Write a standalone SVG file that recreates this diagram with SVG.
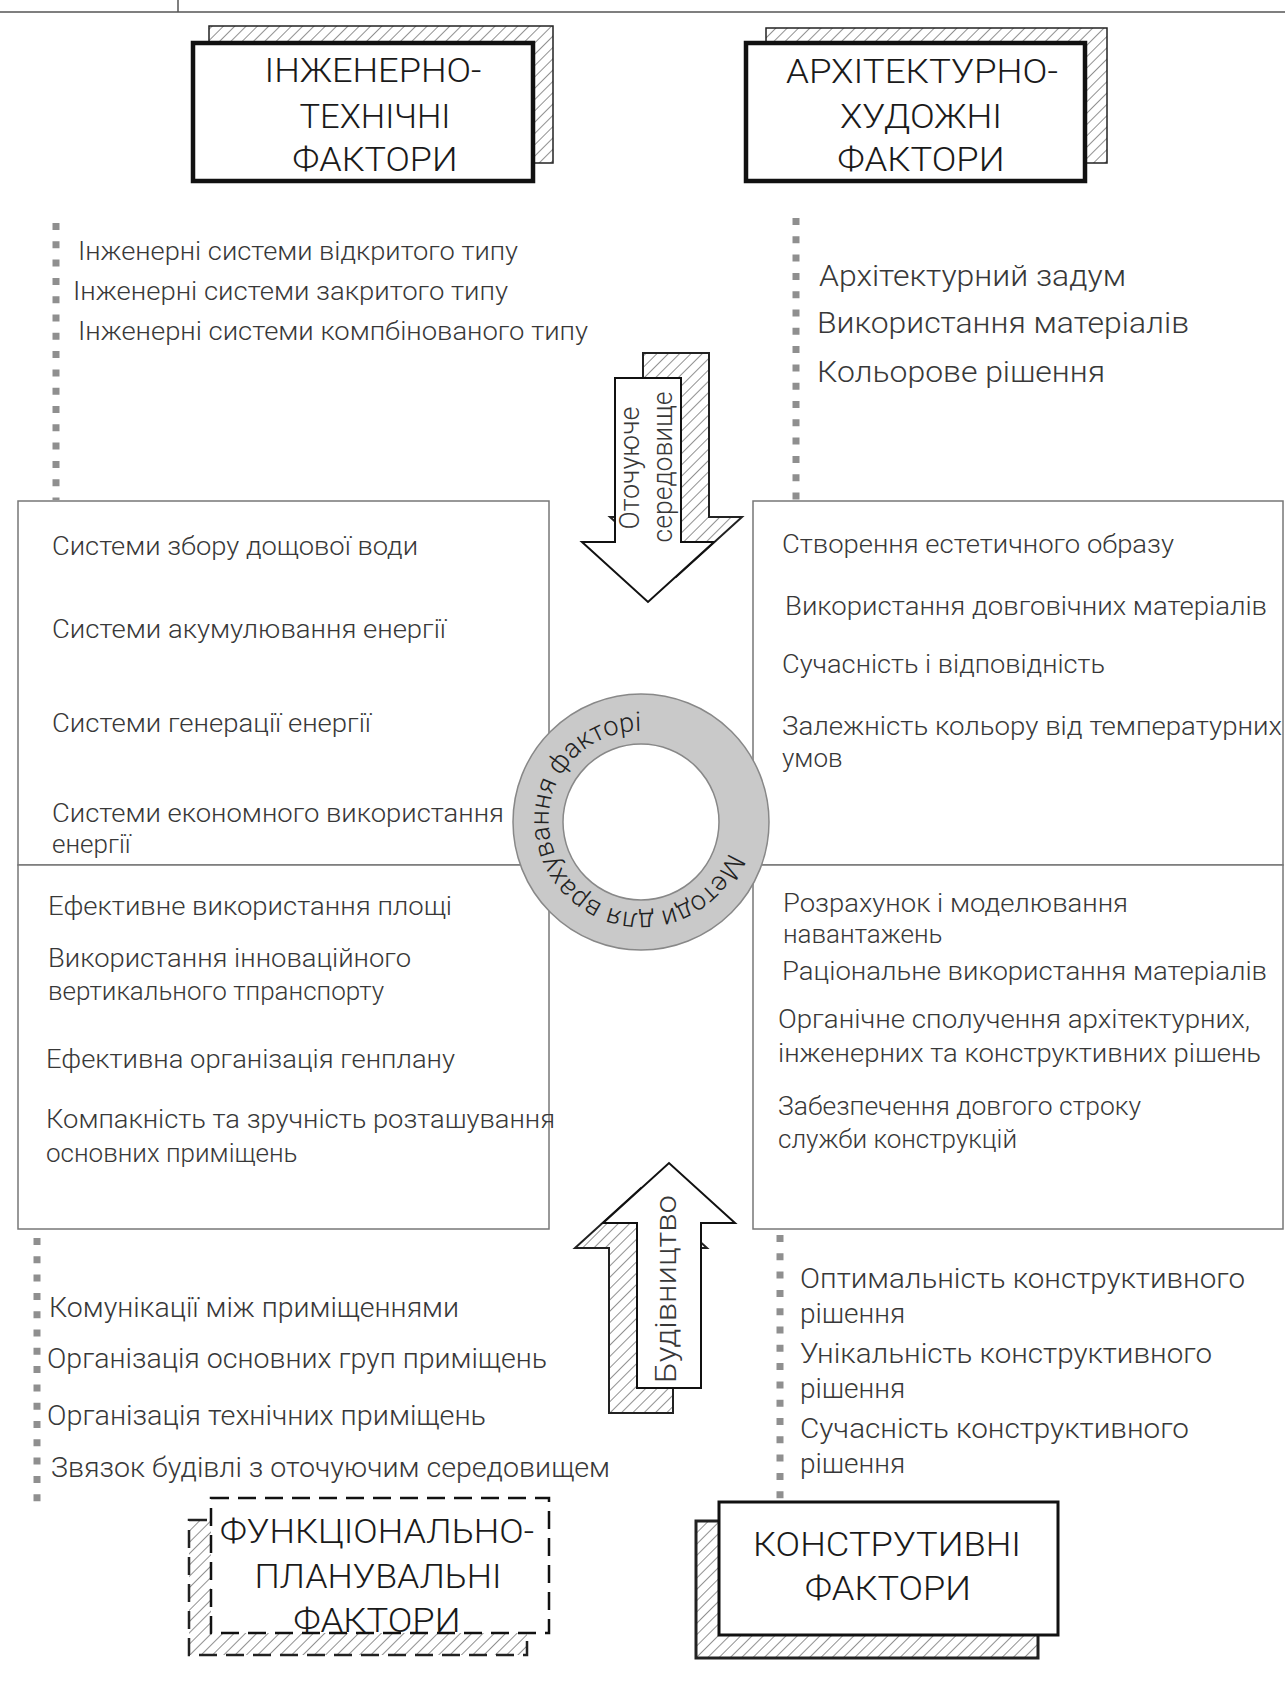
<svg xmlns="http://www.w3.org/2000/svg" width="1285" height="1702" viewBox="0 0 1285 1702">
<defs>
<pattern id="hatch" width="8" height="8" patternUnits="userSpaceOnUse" patternTransform="rotate(45)">
<rect width="8" height="8" fill="#fff"/>
<line x1="0" y1="0" x2="0" y2="8" stroke="#555" stroke-width="1.3"/>
</pattern>
<path id="ringPath" d="M728.9,852.3 A93,93 0 0,1 553.1,791.7 A93,93 0 0,1 728.9,852.3"/>
</defs>
<style>
.t{font-family:Roboto,"Liberation Sans",sans-serif;font-weight:300;fill:#383838}
.s25{font-size:25px}.s26{font-size:26px}.s27{font-size:27px}.s28{font-size:28px}.s30{font-size:30px}
.ti{font-family:Roboto,"Liberation Sans",sans-serif;font-weight:300;font-size:34px;fill:#1a1a1a;text-anchor:middle}
.dots{stroke:#8f8f8f;stroke-width:7;stroke-dasharray:7 11.3;fill:none}
.qbox{fill:#fff;stroke:#777;stroke-width:1.5}
.main{fill:#fff;stroke:#111}
.shadow{fill:url(#hatch);stroke:#222}
</style>
<rect width="1285" height="1702" fill="#fff"/>
<g id="header">
<line x1="0" y1="12" x2="1285" y2="12" stroke="#555" stroke-width="1.5"/>
<line x1="178" y1="0" x2="178" y2="12" stroke="#555" stroke-width="1.5"/>
</g>

<g id="connectors">
<line class="dots" x1="56" y1="223" x2="56" y2="500"/>
<line class="dots" x1="796" y1="218" x2="796" y2="500"/>
<line class="dots" x1="37" y1="1238" x2="37" y2="1502"/>
<line class="dots" x1="780" y1="1235" x2="780" y2="1500"/>
</g>

<g id="box-upper-left">
<rect class="qbox" x="18" y="501" width="531" height="364"/>
<text class="t s26" x="52" y="555" textLength="366" lengthAdjust="spacingAndGlyphs">Системи збору дощової води</text>
<text class="t s26" x="52" y="638" textLength="394" lengthAdjust="spacingAndGlyphs">Системи акумулювання енергії</text>
<text class="t s26" x="52" y="732" textLength="319" lengthAdjust="spacingAndGlyphs">Системи генерації енергії</text>
<text class="t s26" x="52" y="822" textLength="452" lengthAdjust="spacingAndGlyphs">Системи економного використання</text>
<text class="t s26" x="52" y="853">енергії</text>
</g>

<g id="box-upper-right">
<rect class="qbox" x="753" y="501" width="530" height="364"/>
<text class="t s26" x="782" y="553" textLength="392" lengthAdjust="spacingAndGlyphs">Створення естетичного образу</text>
<text class="t s26" x="785" y="615" textLength="482" lengthAdjust="spacingAndGlyphs">Використання довговічних матеріалів</text>
<text class="t s26" x="782" y="673" textLength="323" lengthAdjust="spacingAndGlyphs">Сучасність і відповідність</text>
<text class="t s26" x="782" y="735" textLength="500" lengthAdjust="spacingAndGlyphs">Залежність кольору від температурних</text>
<text class="t s26" x="782" y="767">умов</text>
</g>

<g id="box-lower-left">
<rect class="qbox" x="18" y="865" width="531" height="364"/>
<text class="t s26" x="48" y="915" textLength="404" lengthAdjust="spacingAndGlyphs">Ефективне використання площі</text>
<text class="t s26" x="48" y="967" textLength="363" lengthAdjust="spacingAndGlyphs">Використання інноваційного</text>
<text class="t s26" x="48" y="1000">вертикального тпранспорту</text>
<text class="t s26" x="46" y="1068" textLength="409" lengthAdjust="spacingAndGlyphs">Ефективна організація генплану</text>
<text class="t s26" x="46" y="1128" textLength="509" lengthAdjust="spacingAndGlyphs">Компакність та зручність розташування</text>
<text class="t s26" x="46" y="1162">основних приміщень</text>
</g>

<g id="box-lower-right">
<rect class="qbox" x="753" y="865" width="530" height="364"/>
<text class="t s26" x="783" y="912" textLength="345" lengthAdjust="spacingAndGlyphs">Розрахунок і моделювання</text>
<text class="t s26" x="783" y="943">навантажень</text>
<text class="t s26" x="782" y="980" textLength="485" lengthAdjust="spacingAndGlyphs">Раціональне використання матеріалів</text>
<text class="t s26" x="778" y="1028" textLength="472" lengthAdjust="spacingAndGlyphs">Органічне сполучення архітектурних,</text>
<text class="t s26" x="778" y="1062" textLength="483" lengthAdjust="spacingAndGlyphs">інженерних та конструктивних рішень</text>
<text class="t s26" x="778" y="1115" textLength="363" lengthAdjust="spacingAndGlyphs">Забезпечення довгого строку</text>
<text class="t s26" x="778" y="1148">служби конструкцій</text>
</g>

<g id="ring">
<circle cx="641" cy="822" r="128" fill="#c9c9c9" stroke="#888" stroke-width="1.5"/>
<circle cx="641" cy="822" r="78" fill="#fff" stroke="#888" stroke-width="1.5"/>
<text class="t s27" style="fill:#222"><textPath href="#ringPath">Методи для врахування факторі</textPath></text>
</g>

<g id="n-eng">
<rect class="shadow" x="209" y="26" width="344" height="137" stroke-width="1.5"/>
<rect class="main" x="193" y="43" width="340" height="138" stroke-width="4.5"/>
<text class="ti" x="373" y="82" textLength="217" lengthAdjust="spacingAndGlyphs">ІНЖЕНЕРНО-</text>
<text class="ti" x="375" y="128" textLength="151" lengthAdjust="spacingAndGlyphs">ТЕХНІЧНІ</text>
<text class="ti" x="375" y="171" textLength="165" lengthAdjust="spacingAndGlyphs">ФАКТОРИ</text>
</g>

<g id="n-arch">
<rect class="shadow" x="766" y="28" width="341" height="135" stroke-width="1.5"/>
<rect class="main" x="746" y="43" width="339" height="138" stroke-width="4.5"/>
<text class="ti" x="922" y="83" textLength="272" lengthAdjust="spacingAndGlyphs">АРХІТЕКТУРНО-</text>
<text class="ti" x="921" y="128" textLength="162" lengthAdjust="spacingAndGlyphs">ХУДОЖНІ</text>
<text class="ti" x="921" y="171" textLength="167" lengthAdjust="spacingAndGlyphs">ФАКТОРИ</text>
</g>

<g id="list-upper-left">
<text class="t s25" x="78" y="260" textLength="440" lengthAdjust="spacingAndGlyphs">Інженерні системи відкритого типу</text>
<text class="t s25" x="73" y="300" textLength="435" lengthAdjust="spacingAndGlyphs">Інженерні системи закритого типу</text>
<text class="t s25" x="78" y="340" textLength="510" lengthAdjust="spacingAndGlyphs">Інженерні системи компбінованого типу</text>
</g>

<g id="list-upper-right">
<text class="t s30" x="819" y="286" textLength="307" lengthAdjust="spacingAndGlyphs">Архітектурний задум</text>
<text class="t s30" x="817" y="333" textLength="372" lengthAdjust="spacingAndGlyphs">Використання матеріалів</text>
<text class="t s30" x="817" y="382" textLength="288" lengthAdjust="spacingAndGlyphs">Кольорове рішення</text>
</g>

<g id="arrow-env">
<polygon class="shadow" stroke-width="2" transform="translate(28,-25)" points="615,378 681,378 681,542 714,542 648,602 582,542 615,542"/>
<polygon class="main" stroke-width="2" points="615,378 681,378 681,542 714,542 648,602 582,542 615,542"/>
<text class="t s27" text-anchor="middle" transform="translate(639,468) rotate(-90)" textLength="123" lengthAdjust="spacingAndGlyphs">Оточуюче</text>
<text class="t s27" text-anchor="middle" transform="translate(672,467) rotate(-90)" textLength="151" lengthAdjust="spacingAndGlyphs">середовище</text>
</g>

<g id="arrow-build">
<polygon class="shadow" stroke-width="2" transform="translate(-28,25)" points="637,1388 701,1388 701,1223 735,1223 669,1163 603,1223 637,1223"/>
<polygon class="main" stroke-width="2" points="637,1388 701,1388 701,1223 735,1223 669,1163 603,1223 637,1223"/>
<text class="t s30" text-anchor="middle" transform="translate(676,1289) rotate(-90)" textLength="188" lengthAdjust="spacingAndGlyphs">Будівництво</text>
</g>

<g id="list-lower-left">
<text class="t s27" x="49" y="1317" textLength="410" lengthAdjust="spacingAndGlyphs">Комунікації між приміщеннями</text>
<text class="t s27" x="47" y="1368" textLength="500" lengthAdjust="spacingAndGlyphs">Організація основних груп приміщень</text>
<text class="t s27" x="47" y="1425" textLength="439" lengthAdjust="spacingAndGlyphs">Організація технічних приміщень</text>
<text class="t s27" x="51" y="1477" textLength="559" lengthAdjust="spacingAndGlyphs">Звязок будівлі з оточуючим середовищем</text>
</g>

<g id="list-lower-right">
<text class="t s28" x="800" y="1288" textLength="445" lengthAdjust="spacingAndGlyphs">Оптимальність конструктивного</text>
<text class="t s28" x="800" y="1323">рішення</text>
<text class="t s28" x="800" y="1363" textLength="412" lengthAdjust="spacingAndGlyphs">Унікальність конструктивного</text>
<text class="t s28" x="800" y="1398">рішення</text>
<text class="t s28" x="800" y="1438" textLength="389" lengthAdjust="spacingAndGlyphs">Сучасність конструктивного</text>
<text class="t s28" x="800" y="1473">рішення</text>
</g>

<g id="n-func">
<rect class="shadow" x="189" y="1520" width="338" height="135" stroke-width="2.5" stroke-dasharray="18 9"/>
<rect class="main" x="211" y="1498" width="338" height="135" stroke-width="2.5" stroke-dasharray="18 9"/>
<text class="ti" style="font-size:33px" x="377" y="1543" textLength="314" lengthAdjust="spacingAndGlyphs">ФУНКЦІОНАЛЬНО-</text>
<text class="ti" style="font-size:33px" x="378" y="1588" textLength="247" lengthAdjust="spacingAndGlyphs">ПЛАНУВАЛЬНІ</text>
<text class="ti" style="font-size:33px" x="377" y="1632" textLength="167" lengthAdjust="spacingAndGlyphs">ФАКТОРИ</text>
</g>

<g id="n-constr">
<rect class="shadow" x="696" y="1521" width="342" height="137" stroke-width="3"/>
<rect class="main" x="719" y="1502" width="339" height="133" stroke-width="3"/>
<text class="ti" style="font-size:33px" x="887" y="1556" textLength="268" lengthAdjust="spacingAndGlyphs">КОНСТРУТИВНІ</text>
<text class="ti" style="font-size:33px" x="888" y="1600" textLength="166" lengthAdjust="spacingAndGlyphs">ФАКТОРИ</text>
</g>
</svg>
